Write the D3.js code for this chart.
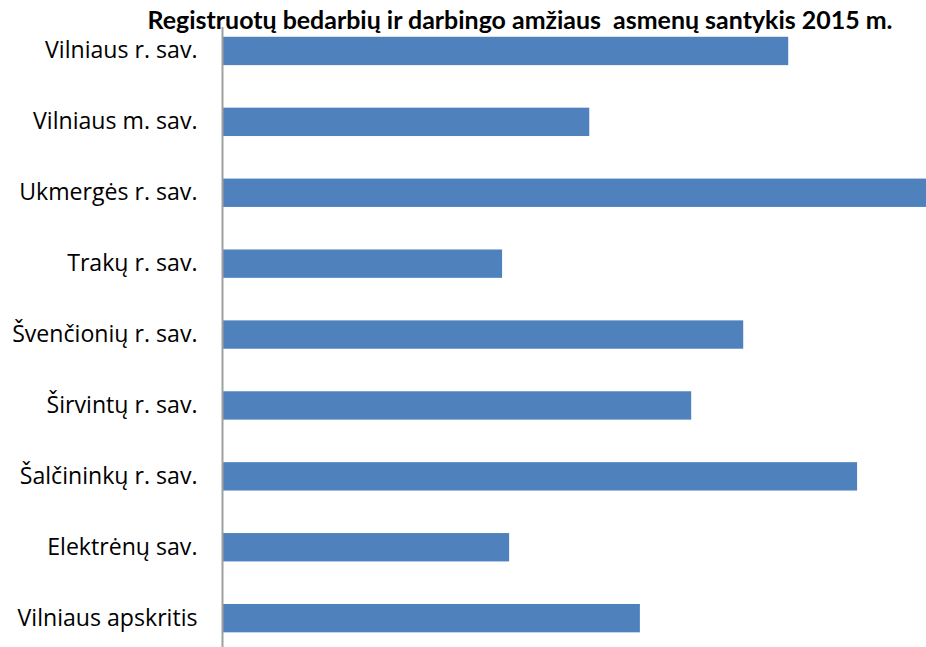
<!DOCTYPE html>
<html>
<head>
<meta charset="utf-8">
<script src="https://cdn.jsdelivr.net/npm/d3@7"></script>
<style>
  body { margin: 0; background: #fff; }
  svg { display: block; }
</style>
</head>
<body>
<script>
// data (relative units, x axis has no labels)
const categories = [
  'Vilniaus r. sav.',
  'Vilniaus m. sav.',
  'Ukmergės r. sav.',
  'Trakų r. sav.',
  'Švenčionių r. sav.',
  'Širvintų r. sav.',
  'Šalčininkų r. sav.',
  'Elektrėnų sav.',
  'Vilniaus apskritis'
];
const values = [8.04, 5.21, 10.0, 3.97, 7.40, 6.66, 9.02, 4.07, 5.93];
const title = 'Registruotų bedarbių ir darbingo amžiaus  asmenų santykis 2015 m.';

let width = 926;
let height = 647;
let margin = {left: 223, top: 15.5};

let svg = d3.select('body').append('svg')
  .attr('width', width)
  .attr('height', height);

// x scale: biggest bar runs to the right edge
let x = d3.scaleLinear()
  .domain([0, 10])
  .range([margin.left, width]);

let y = d3.scaleBand()
  .domain(categories)
  .range([margin.top, margin.top + 70.9 * categories.length])
  .paddingInner(0.6)
  .paddingOuter(0.3);

let rows = categories.map((c, i) => ({name: c, value: values[i]}));

svg.selectAll('rect.bar')
  .data(rows)
  .enter()
  .append('rect')
    .attr('class', 'bar')
    .attr('x', x(0))
    .attr('y', d => y(d.name))
    .attr('width', d => x(d.value) - x(0))
    .attr('height', y.bandwidth())
    .attr('fill', '#4f81bd');

// category axis
let axis = svg.append('g')
  .attr('transform', `translate(${x(0) - 0.5},0)`)
  .call(d3.axisLeft(y).tickSize(0).tickPadding(25));
axis.select('.domain').remove();
let labels = axis.selectAll('text')
  .attr('font-family', '"Open Sans", Lato, sans-serif')
  .attr('font-size', '20px')
  .attr('fill', '#000');

// fit label size so "Vilniaus apskritis" is about 180px wide like in the picture
let last = labels.filter(d => d === 'Vilniaus apskritis').node();
let lw = last.getComputedTextLength();
labels.attr('font-size', (20 * 180 / lw).toFixed(2) + 'px');

svg.append('line')
  .attr('x1', x(0) - 0.5).attr('x2', x(0) - 0.5)
  .attr('y1', 27).attr('y2', height)
  .attr('stroke', '#a0a0a0')
  .attr('stroke-width', 2);

// title, sized to the width it has in the picture
let t = svg.append('text')
  .attr('x', 520)
  .attr('y', 29)
  .attr('text-anchor', 'middle')
  .attr('font-family', 'Lato, "Open Sans", sans-serif')
  .attr('font-weight', 'bold')
  .attr('font-size', '21px')
  .attr('fill', '#000')
  .style('white-space', 'pre')
  .text(title);
let w = t.node().getComputedTextLength();
t.attr('font-size', (21 * 745 / w).toFixed(2) + 'px');
</script>
</body>
</html>
